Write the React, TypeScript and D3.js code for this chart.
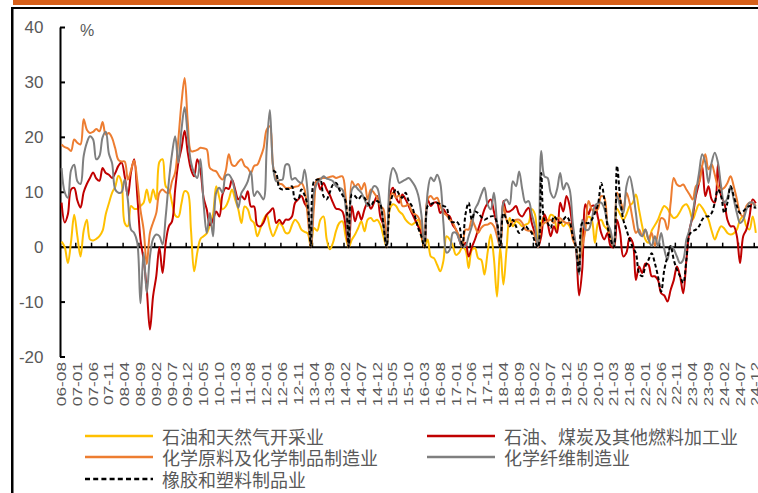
import React from "react";
import * as d3 from "d3";

const WIDTH = 758;
const HEIGHT = 493;

// monthly categories 2006-08 .. 2024-12
const months = d3
  .timeMonth.range(new Date(2006, 7, 1), new Date(2025, 0, 1))
  .map(d3.timeFormat("%y-%m"));

const xTickLabels = [
  "06-08", "07-01", "07-06", "07-11", "08-04", "08-09", "09-02", "09-07", "09-12",
  "10-05", "10-10", "11-03", "11-08", "12-01", "12-06", "12-11", "13-04", "13-09",
  "14-02", "14-07", "14-12", "15-05", "15-10", "16-03", "16-08", "17-01", "17-06",
  "17-11", "18-04", "18-09", "19-02", "19-07", "19-12", "20-05", "20-10", "21-03",
  "21-08", "22-01", "22-06", "22-11", "23-04", "23-09", "24-02", "24-07", "24-12",
];

const yTicks = [-20, -10, 0, 10, 20, 30, 40];

// 石油和天然气开采业
const oilGas = [
  1, 0, -2.9, 1, 5.9,
  2, -1.7, 3, 5, 1.4, 1.2, 1.5, 2, 3, 6, 8, 9.9,
  11, 13, 11.8, 4.4, 3.8, 7.5, 7, 7, 7.5, 8.1, 10.5, 8.1,
  10.5, 8.7, 15.5, 16, 11.1, 10.5, 8.1, 5.8, 5.5, 8, 10.2, 9.9,
  3.2, -4.4, -1, 1.5, 2, 2.5, 4, 6, 11.1, 9, 6.9, 7.4,
  8.7, 10.5, 8.7, 6.9, 4.4, 7.4, 6.9, 5, 4.4, 2, 3.4, 5,
  5.9, 3.5, 2, 3.2, 4.4, 3.8, 2.6, 2.6, 4, 5, 4.4, 3.2,
  2.8, 2.5, 0, 3.5, 3, 5, 5.6, 1.5, -0.4, 0.8, 3, 4.4,
  4.7, 2, 0, 1.4, 2.3, 3.5, 4.7, 2.9, 5, 5.3, 4.7, 5,
  4.1, 2, 0, 6.9, 7.8, 7.5, 6.5, 6, 5, 4.4, 4.1, 4.5,
  5, 2, 0, 1.4, -1.7, -2, -3.2, -4.4, -2.5, 2, 1.4, 0.2,
  -1.4, -1, 0, -0.5, -3.8, -0.5, -0.2, -2, -2.3, -5, -1, 2.3,
  -2, -9, 0, -6.8, -0.5, 5.3, 3.8, 4.7, 4.4, 3.8, 4.1, 4.4,
  6.9, 6, 0, 4.4, 5.6, 4.7, 5.9, 5.6, 3.2, 4.7, 3.8, 4.4,
  3.8, 2, 0, -3, 2.6, 4.4, 5.6, 5, 0.8, 4.4, 5, 3.8,
  3.2, 2, 0, 7, 6, 5, 6, 7.5, 8.1, 9.6, 6.8, 3.8,
  1.4, 0.8, 3, 4, 5, 6.5, 7.5, 7, 6, 5.3, 5.6, 6.5,
  7.5, 7.8, 6.8, 5, 6.5, 7.8, 7.2, 6.2, 5, 3, 1.4, 2.8,
  3.8, 3.4, 2.6, 2.3, 2.5, 3.2, 5, 5.6, 3.8, 3.2, 5.6, 2.6,
];

// 石油、煤炭及其他燃料加工业
const refining = [
  8.1, 4.5, 6, 10.5, 10.8,
  8.5, 7.2, 10, 11.5, 12.6, 13.6, 12.5, 12.1, 14.4, 13.5, 13.2, 12.6,
  13.5, 14.8, 15.4, 12.9, 9.3, 13.6, 16, 9.3, 1.4, -2.3, -7.7, -15,
  -8.9, -5.3, 0, -4.7, 0.8, 3.8, 4.7, 10.5, 15.4, 18, 21.2, 17.2,
  14.2, 12.9, 16, 14, 9, 6.9, 4, 5, 6.5, 5.6, 9.6, 10.8,
  10.6, 12.3, 10.5, 8.7, 9.3, 8.7, 10.2, 7.4, 7.4, 4, 3.8, 4.5,
  5.9, 6.5, 7.1, 4.4, 5, 4.2, 5, 5, 5.6, 8.1, 8.7, 9.3,
  8, 6.9, 0, 9.9, 12.3, 10.5, 11.7, 10.5, 9.5, 8.1, 7, 6.9,
  6.5, 4, 0, 7.5, 4.7, 6.5, 5, 6.9, 8.1, 7, 8.1, 9.3,
  5.6, 4, 0, 9.3, 10.8, 9, 8.1, 9.6, 8.7, 7.5, 6.2, 5,
  3.8, 2.5, 0, 8.7, 7.5, 8.1, 8.1, 6.2, 6.9, 6, 5.6, 4,
  3.2, 1.4, 0, 0.8, -1.7, 0, 1.4, 3.2, 5, 6.9, 8, 8.7,
  6.5, 4, 0, 8.4, 6.5, 6.5, 6.9, 7.5, 6, 5.6, 6.5, 7.2,
  4.4, 2.5, 0, 2, 6, 4.4, 2, 3.8, 2.6, 8.1, 6.5, 9.3,
  7.5, 3.2, 0, -8.8, -4, 7.8, 6, 7.5, 7.5, 5.3, 2.6, 1.4,
  2.6, 0.2, 0, 5, 2.6, -1.7, -1, 1.7, 0.8, -6, -3.5, -4.7,
  -3, -3.2, -5.3, -5.3, -6, -8.4, -8.8, -9.9, -7.8, -6, -3.5, -5.3,
  -8.4, -2.3, 3.2, 5.6, 9.3, 11.7, 14.8, 9.3, 11.1, 8.7, 8.1, 15.1,
  9.3, 8.1, 5, 3.8, 3.8, 2, -2.9, 2, 3.2, 5.6, 8.7, 8,
];

// 化学原料及化学制品制造业
const chemicals = [
  18.7, 18.2, 18, 17.5, 19.6,
  19, 18.7, 23.3, 21.4, 20.8, 21, 21.5, 21.1, 22.8, 20.5, 20.8, 19.9,
  18, 15.9, 15.6, 15.6, 12.3, 14, 15.8, 12, 6.8, 3.2, -3.1, 2.6,
  4.5, 6.2, 9.9, 10.5, 10, 9.9, 12, 13.6, 19.6, 26.3, 30.8, 22.7,
  17.5, 17.5, 17.7, 18.1, 18, 17.8, 14.4, 14, 13.8, 12.9, 12.3, 13.8,
  16.9, 15, 14.8, 15.5, 16, 14.8, 14.4, 13.5, 14.8, 15, 16.3, 18,
  21.4, 22, 14.8, 12.3, 11.6, 11.4, 10.8, 10.8, 10.8, 11, 11.1, 11.7,
  10.5, 5.6, 0, 7.4, 12.3, 12.5, 12.6, 12.6, 12.8, 12.9, 12.6, 12.8,
  12.9, 9.3, 0, 12, 11.1, 11.5, 10.5, 11.7, 8.7, 10.5, 9.9, 9,
  7.5, 6.9, 0, 8.7, 9.9, 9, 9.5, 7.5, 7.5, 7.8, 6.5, 6,
  5.5, 4, 0, 8.7, 9.3, 8.7, 9, 7.5, 6.3, 5.8, 5, 4.4,
  3.2, 2, 0, 3.2, 3.2, 5, 3.8, 2.6, 3.5, 4, 4.1, 4.4,
  3.8, 2, 0, 7.5, 5, 3.8, 4.7, 5, 5, 4.4, 3.2, 3,
  2.9, 2, 0, 3.8, 4.4, 4.7, 5, 4.4, 5.3, 5.3, 4.7, 4.4,
  4.4, 1.4, 0, -2.9, 0, 3.2, 8.4, 6.9, 6.5, 7, 9.3, 9,
  4, 2, 0, 9.9, 8.7, 6.8, 9.9, 8.1, 5, 2.6, 3.2, 2,
  3.2, 1.4, 2.6, 0.2, 2.6, 5.3, 5, 3.2, 8, 12.6, 11.4, 11.1,
  11.4, 10.5, 9.6, 8.7, 11.1, 11.7, 14.8, 16.9, 14.2, 15.1, 13.2, 11.1,
  10.5, 10.8, 11.7, 12.9, 11.1, 8.7, 6.2, 5.6, 7.5, 8.1, 8, 7.5,
];

// 化学纤维制造业
const fibers = [
  14.4, 10, 9, 14, 15,
  12, 11.5, 16.6, 19, 20.2, 19.6, 16, 16.6, 20, 21, 17, 15.3,
  10.5, 9.9, 10, 12.3, 8.6, 3.2, 2.6, 0.8, -10.2, -1, -8.3, -1.7,
  1.5, 2.3, 2, 0.5, 5.6, 12, 17, 20.2, 15.4, 21.4, 25.5, 20.2,
  15.5, 13.5, 12.6, 16, 8, 2.6, 6.2, 2, 9.9, 10.8, 9.9, 13,
  13.2, 12.3, 9.9, 7.2, 9.9, 10.8, 12, 13.8, 9.3, 10.2, 9.5, 8.7,
  18, 25, 14.8, 12, 12.2, 12.3, 15, 15, 12.3, 12.6, 12, 11.7,
  14.1, 9.9, 0, 10, 11.7, 12.3, 12.9, 12.5, 12.3, 12, 11.1, 10.8,
  10.5, 7.4, 0, 10.5, 11.1, 10.5, 9.9, 8.7, 7.5, 9.9, 11.1, 10.8,
  8.1, 4.4, 0, 12, 14.4, 13.5, 11.7, 12, 12.3, 12.6, 12, 11.1,
  9.5, 6, 0, 10, 12.7, 12, 13.2, 11.7, 4.4, -1, -0.5, 2.6,
  2.6, 1.4, 0, 0.2, 2, 3.8, 6.9, 8, 9.6, 10.8, 7.8, 6.9,
  9.9, 4.4, 0, 8, 8.7, 7.8, 12, 11.1, 13.8, 10.5, 8.1, 8.4,
  6, 3.8, 0, 17.5, 12.9, 12.6, 9.9, 9, 10.5, 13.5, 10.5, 11.7,
  10.5, 4.4, 0, -5, 5, 3.2, 3.2, 5, 7.5, 8, 8.1, 7,
  4.4, 3, 0, 9.3, 7.5, 6.2, 11.1, 12.9, 10.5, 6.2, 2.6, 2,
  3.2, 1.4, 0.2, 2, 0.2, 2.6, -0.4, -2.3, 0.2, -0.4, -1.7, -2.9,
  -2.3, 1.4, 3.2, 6.2, 9.9, 13.5, 16.9, 15.4, 11.7, 15.4, 17.2, 15.4,
  11.1, 8.1, 9, 11.1, 8.7, 6.2, 4.4, 5, 6.8, 8.1, 8.1, 7,
];

// 橡胶和塑料制品业 (starts 2012-03)
const rubberPlastic: (number | null)[] = [
  null, null, null, null, null,
  null, null, null, null, null, null, null, null, null, null, null, null,
  null, null, null, null, null, null, null, null, null, null, null, null,
  null, null, null, null, null, null, null, null, null, null, null, null,
  null, null, null, null, null, null, null, null, null, null, null, null,
  null, null, null, null, null, null, null, null, null, null, null, null,
  null, null, 14, 13.5, 10.8, 10.5, 10.6, 10.6, 11.1, 8.7, 8.7, 10.5,
  9.5, 7.4, 0, 12, 12.3, 12.3, 9.3, 8.7, 10, 11.4, 11.7, 10.5,
  9.5, 8.4, 0, 9.6, 9.3, 8.7, 9.3, 9, 8, 7.5, 8.4, 8.4,
  7.8, 4, 0, 7.5, 9.6, 10.5, 9.6, 9, 9.9, 8.4, 7.5, 5.6,
  3.5, 2, 0, 7.5, 7.8, 8.1, 8.1, 7.8, 7.5, 7.2, 5, 4.5,
  4.7, 4, 0, 6, 8.1, 5, 6.5, 6.2, 5.5, 5, 5.3, 5.6,
  5.6, 4.4, 0, 6.2, 5, 3.8, 5, 3.8, 2.6, 3.2, 3.8, 3.2,
  2.6, 1, 0, 13.5, 5, 4.4, 3.5, 5.6, 5, 4.4, 5, 5.6,
  4.7, 2, 0, -4.7, 4.4, 4.4, 4.4, 5, 6.2, 7.8, 11.7, 8.7,
  3.8, 1.4, 0, 14.8, 9, 5, 3.2, 1.4, 0, -1.1, -4.7, -5.3,
  -3.5, -2.3, -1.1, -2.9, -5.3, -8.1, -4.1, -1.7, 0.2, -2.3, -4.1, -5.3,
  -6.5, -2.3, 2.3, 2.9, 3.2, 3.8, 5, 5.6, 5.6, 6.2, 8.1, 10.5,
  9.3, 6.2, 8.1, 11.1, 9.3, 7.5, 6.2, 6.5, 7.1, 7.5, 7.3, 7.2,
];

const series = [
  { name: "石油和天然气开采业", values: oilGas, color: "#FFC000", dash: null },
  { name: "石油、煤炭及其他燃料加工业", values: refining, color: "#C00000", dash: null },
  { name: "化学原料及化学制品制造业", values: chemicals, color: "#ED7D31", dash: null },
  { name: "化学纤维制造业", values: fibers, color: "#7F7F7F", dash: null },
  { name: "橡胶和塑料制品业", values: rubberPlastic, color: "#000000", dash: "4 2.5" },
];

const legendPos = [
  { x: 85, y: 436 },
  { x: 427, y: 436 },
  { x: 85, y: 457 },
  { x: 427, y: 457 },
  { x: 85, y: 479 },
];

const App = () => {
  const x = d3.scaleBand<number>().domain(d3.range(months.length)).range([60, 757.4]);
  const cx = (i: number) => (x(i) as number) + x.bandwidth() / 2;
  const y = d3.scaleLinear().domain([-20, 40]).range([357, 27.5]);

  const line = d3
    .line<number | null>()
    .defined((d) => d != null)
    .x((d, i) => cx(i))
    .y((d) => y(d as number))
    .curve(d3.curveCatmullRom.alpha(0.5));

  const tickIdx = d3.range(5, months.length, 5);

  return (
    <svg
      width={WIDTH}
      height={HEIGHT}
      style={{ position: "absolute", left: 0, top: 0, background: "#fff" }}
      fontFamily="'Liberation Sans', Arial, sans-serif"
    >
      {/* frame */}
      <rect x={13} y={0} width={745} height={5} fill="#D65F1A" />
      <rect x={12} y={7} width={746} height={2} fill="#000" />
      <rect x={11} y={7} width={2.5} height={486} fill="#000" />

      {/* y axis */}
      <line x1={60.5} x2={60.5} y1={y(40)} y2={y(-20)} stroke="#000" strokeWidth={2} />
      {yTicks.map((t) => (
        <g key={t}>
          <line x1={60} x2={65} y1={y(t)} y2={y(t)} stroke="#000" strokeWidth={2} />
          <text x={43.5} y={y(t)} textAnchor="end" dominantBaseline="central" fontSize={17} fill="#595959">
            {t}
          </text>
        </g>
      ))}
      <text x={80} y={30} dominantBaseline="central" fontSize={16} fill="#595959">%</text>

      {/* zero axis */}
      <line x1={60} x2={WIDTH} y1={y(0)} y2={y(0)} stroke="#000" strokeWidth={2} />
      {tickIdx.map((i) => (
        <line key={i} x1={x(i)} x2={x(i)} y1={y(0)} y2={y(0) - 4.5} stroke="#000" strokeWidth={1.5} />
      ))}

      {/* series */}
      {series.map((s) => (
        <path
          key={s.name}
          d={line(s.values) || ""}
          fill="none"
          stroke={s.color}
          strokeWidth={2}
          strokeDasharray={s.dash || undefined}
          strokeLinejoin="round"
        />
      ))}

      {/* x labels */}
      {xTickLabels.map((lab) => {
        const i = months.indexOf(lab);
        return (
          <text
            key={lab}
            transform={`translate(${cx(i)},362) rotate(-90) scale(1.33,1)`}
            textAnchor="end"
            dy="0.35em"
            fontSize={13}
            fill="#595959"
          >
            {lab}
          </text>
        );
      })}

      {/* legend */}
      {series.map((s, k) => {
        const p = legendPos[k];
        return (
          <g key={s.name}>
            <line
              x1={p.x}
              x2={p.x + 68}
              y1={p.y}
              y2={p.y}
              stroke={s.color}
              strokeWidth={2.5}
              strokeDasharray={s.dash ? "5 3.2" : undefined}
            />
            <text
              x={p.x + 77}
              y={p.y}
              dominantBaseline="central"
              fontSize={18}
              fontFamily="'Noto Sans CJK SC', sans-serif"
              fill="#595959"
            >
              {s.name}
            </text>
          </g>
        );
      })}
    </svg>
  );
};

export default App;
